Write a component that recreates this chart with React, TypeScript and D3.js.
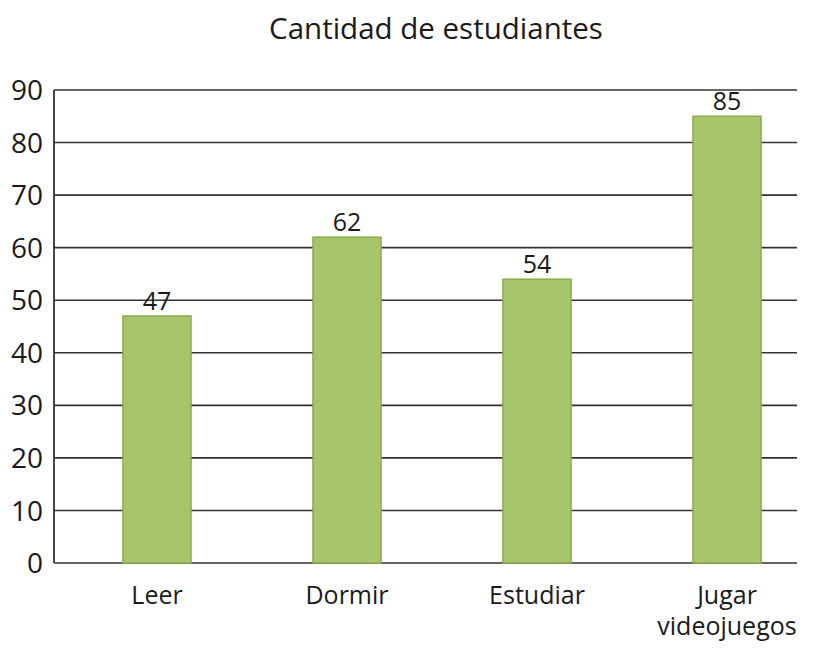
import * as d3 from "d3";

const categories = ["Leer", "Dormir", "Estudiar", "Jugar videojuegos"];
const categoryLines = [["Leer"], ["Dormir"], ["Estudiar"], ["Jugar", "videojuegos"]];
const values = [47, 62, 54, 85];
const yTicks = [0, 10, 20, 30, 40, 50, 60, 70, 80, 90];
const title = "Cantidad de estudiantes";

export default function App() {
  const width = 825;
  const height = 649;
  const left = 54;
  const right = 797;
  const top = 90;
  const bottom = 563;
  const font = "'Open Sans', 'DejaVu Sans', sans-serif";

  const y = d3.scaleLinear([0, 90], [bottom, top]);
  const x = d3
    .scaleBand<string>()
    .domain(categories)
    .range([62, 822])
    .paddingInner(0.642)
    .paddingOuter(0.321);

  return (
    <svg
      width={width}
      height={height}
      viewBox={`0 0 ${width} ${height}`}
      style={{ position: "absolute", left: 0, top: 0, background: "#fff" }}
    >
      <text x={436} y={39} textAnchor="middle" fontFamily={font} fontSize={29.5} fill="#1a1a1a">
        {title}
      </text>
      {yTicks.map((t) => (
        <g key={t}>
          <line x1={left} x2={right} y1={y(t)} y2={y(t)} stroke="#333" strokeWidth={1.6} />
          <text
            x={43}
            y={y(t)}
            dy="0.36em"
            textAnchor="end"
            fontFamily={font}
            fontSize={28}
            fill="#1a1a1a"
          >
            {t}
          </text>
        </g>
      ))}
      <line x1={left} x2={left} y1={top} y2={bottom} stroke="#333" strokeWidth={1.8} />
      {categories.map((c, i) => {
        const bx = x(c) ?? 0;
        const cx = bx + x.bandwidth() / 2;
        return (
          <g key={c}>
            <rect
              x={bx}
              y={y(values[i])}
              width={x.bandwidth()}
              height={bottom - y(values[i])}
              fill="#a7c66b"
              stroke="#8aaa4c"
              strokeWidth={1.5}
            />
            <text
              x={cx}
              y={y(values[i]) - 6}
              textAnchor="middle"
              fontFamily={font}
              fontSize={25}
              fill="#1a1a1a"
            >
              {values[i]}
            </text>
            {categoryLines[i].map((line, j) => (
              <text
                key={line}
                x={cx}
                y={604 + j * 31}
                textAnchor="middle"
                fontFamily={font}
                fontSize={25}
                fill="#1a1a1a"
              >
                {line}
              </text>
            ))}
          </g>
        );
      })}
    </svg>
  );
}
